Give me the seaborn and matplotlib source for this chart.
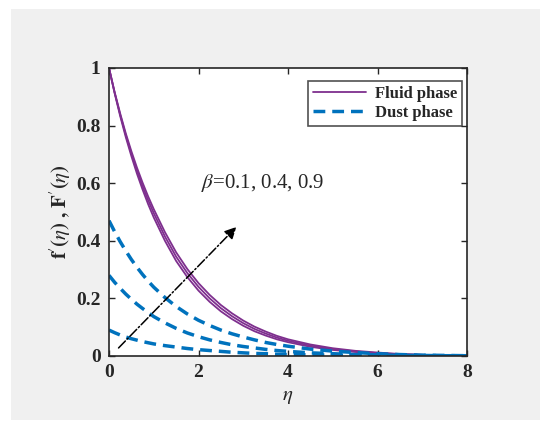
import numpy as np
import pandas as pd
import matplotlib
matplotlib.use("Agg")
import matplotlib.pyplot as plt
import seaborn as sns
from matplotlib.patches import Rectangle
from matplotlib.lines import Line2D

eta = [0, 0.125, 0.25, 0.375, 0.5, 0.625, 0.75, 0.875, 1, 1.25, 1.5, 1.75, 2, 2.25, 2.5,
       2.75, 3, 3.25, 3.5, 3.75, 4, 4.5, 5, 5.5, 6, 6.5, 7, 7.5, 8]

fluid_b1 = [1.000, 0.913, 0.833, 0.760, 0.694, 0.633, 0.578, 0.527, 0.481, 0.400, 0.330, 0.274,
            0.227, 0.188, 0.155, 0.128, 0.105, 0.086, 0.071, 0.058, 0.048, 0.032, 0.021, 0.014,
            0.009, 0.005, 0.003, 0.002, 0.001]
fluid_b2 = [1.000, 0.915, 0.838, 0.767, 0.703, 0.644, 0.590, 0.541, 0.496, 0.415, 0.345, 0.288,
            0.240, 0.200, 0.166, 0.138, 0.114, 0.094, 0.078, 0.064, 0.053, 0.036, 0.024, 0.016,
            0.010, 0.006, 0.004, 0.002, 0.001]
fluid_b3 = [1.000, 0.917, 0.842, 0.773, 0.711, 0.654, 0.602, 0.554, 0.510, 0.430, 0.360, 0.302,
            0.253, 0.212, 0.177, 0.148, 0.123, 0.102, 0.085, 0.070, 0.058, 0.040, 0.027, 0.018,
            0.012, 0.007, 0.004, 0.003, 0.001]

dust_b1 = [0.090, 0.081, 0.073, 0.066, 0.060, 0.055, 0.050, 0.046, 0.042, 0.036, 0.031, 0.026,
           0.022, 0.019, 0.016, 0.013, 0.011, 0.009, 0.008, 0.006, 0.005, 0.004, 0.003, 0.002,
           0.001, 0.001, 0.001, 0.000, 0.000]
dust_b2 = [0.280, 0.256, 0.235, 0.215, 0.197, 0.180, 0.165, 0.151, 0.137, 0.115, 0.096, 0.080,
           0.067, 0.056, 0.047, 0.039, 0.033, 0.028, 0.023, 0.019, 0.016, 0.011, 0.008, 0.005,
           0.004, 0.002, 0.002, 0.001, 0.001]
dust_b3 = [0.470, 0.432, 0.397, 0.365, 0.335, 0.308, 0.283, 0.260, 0.239, 0.203, 0.172, 0.146,
           0.124, 0.106, 0.090, 0.077, 0.066, 0.056, 0.047, 0.040, 0.034, 0.024, 0.017, 0.012,
           0.008, 0.005, 0.003, 0.002, 0.001]

betas = ["0.1", "0.4", "0.9"]
x_ticks = [0, 2, 4, 6, 8]
y_ticks = [0, 0.2, 0.4, 0.6, 0.8, 1]
y_tick_labels = ["0", "0.2", "0.4", "0.6", "0.8", "1"]

rows = []
for b, fl, du in zip(betas, [fluid_b1, fluid_b2, fluid_b3], [dust_b1, dust_b2, dust_b3]):
    for e, v in zip(eta, fl):
        rows.append({"eta": e, "val": v, "beta": b, "phase": "Fluid phase"})
    for e, v in zip(eta, du):
        rows.append({"eta": e, "val": v, "beta": b, "phase": "Dust phase"})
df = pd.DataFrame(rows)

sns.set_style("ticks")
plt.rcParams["font.family"] = ["Liberation Serif", "DejaVu Serif"]
plt.rcParams["mathtext.fontset"] = "stix"

fig = plt.figure(figsize=(5.5, 4.28), dpi=100, facecolor="white")
fig.patches.append(Rectangle((11/550, 1-420/428), (540-11)/550, (420-9)/428,
                             transform=fig.transFigure, facecolor="#f0f0f0",
                             edgecolor="none", zorder=-10))
ax = fig.add_axes([109/550, 1-356/428, (467-109)/550, (356-68)/428])
ax.set_facecolor("white")

purple = "#7E2F8E"
blue = "#0072BD"

fluid_df = df[df["phase"] == "Fluid phase"]
dust_df = df[df["phase"] == "Dust phase"]
sns.lineplot(data=fluid_df, x="eta", y="val", units="beta", estimator=None,
             color=purple, lw=1.3, ax=ax, legend=False)
sns.lineplot(data=dust_df, x="eta", y="val", units="beta", estimator=None,
             color=blue, lw=2.5, ax=ax, legend=False)
for ln in ax.lines[3:]:
    ln.set_dashes((3.4, 2.0))

ax.set_xlim(0, 8)
ax.set_ylim(0, 1)
ax.set_xticks(x_ticks)
ax.set_xticklabels([str(t) for t in x_ticks])
ax.set_yticks(y_ticks)
ax.set_yticklabels(y_tick_labels)
ax.tick_params(direction="in", top=True, right=True, length=4, width=1,
               labelsize=14, pad=6)
for lab in ax.get_xticklabels() + ax.get_yticklabels():
    lab.set_fontweight("bold")
for sp in ax.spines.values():
    sp.set_linewidth(1.2)
    sp.set_color("#262626")

ax.set_xlabel(r"$\eta$", fontsize=15, labelpad=4)
ax.set_ylabel(r"$\mathbf{f}^{\prime}\mathbf{(}\eta\mathbf{)}$ $\mathbf{,}$ $\mathbf{F}^{\prime}\mathbf{(}\eta\mathbf{)}$",
              fontsize=15, labelpad=2)

ax.annotate("", xy=(2.89, 0.455), xytext=(0.17, 0.021),
            arrowprops=dict(arrowstyle="-|>,head_length=0.7,head_width=0.35",
                            color="black", lw=1.1, linestyle="-."))
ax.text(2.05, 0.6, r"$\beta$=0.1, 0.4, 0.9", fontsize=15, va="center", ha="left")

handles = [Line2D([], [], color=purple, lw=1.3),
           Line2D([], [], color=blue, lw=2.5, dashes=(3.4, 2.0))]
leg = ax.legend(handles, ["Fluid phase", "Dust phase"], loc="upper right",
                bbox_to_anchor=(0.986, 0.955), prop={"weight": "bold", "size": 12},
                frameon=True, fancybox=False, edgecolor="#262626",
                handlelength=3.2, borderpad=0.3, labelspacing=0.2,
                handletextpad=0.5, borderaxespad=0)
leg.get_frame().set_linewidth(1.2)

fig.savefig("out.png", dpi=100, facecolor="white")
